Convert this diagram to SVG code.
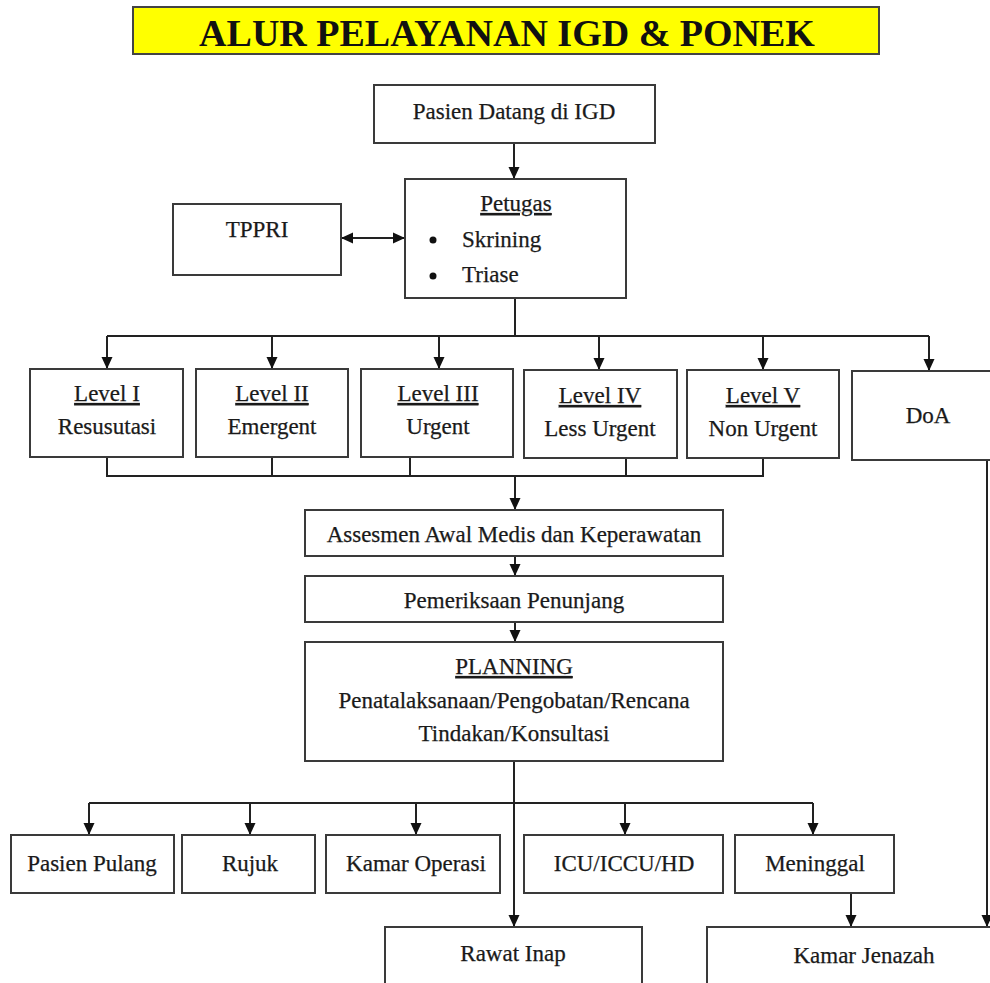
<svg xmlns="http://www.w3.org/2000/svg" width="990" height="983" viewBox="0 0 990 983">
<defs>
<marker id="ah" markerUnits="userSpaceOnUse" markerWidth="12" markerHeight="12" viewBox="0 0 12 12" refX="12" refY="6" orient="auto">
<path d="M0,0.5 L12,6 L0,11.5 Z" fill="#111"/>
</marker>
<marker id="ahs" markerUnits="userSpaceOnUse" markerWidth="12" markerHeight="12" viewBox="0 0 12 12" refX="12" refY="6" orient="auto-start-reverse">
<path d="M0,0.5 L12,6 L0,11.5 Z" fill="#111"/>
</marker>
</defs>
<style>
.b{fill:#fff;stroke:#3a3a3a;stroke-width:2}
.t{font-family:"Liberation Serif","Times New Roman",serif;font-size:23px;fill:#1a1a1a;stroke:#1a1a1a;stroke-width:0.25;text-anchor:middle}
.u{text-decoration:underline}
.c{fill:none;stroke:#222;stroke-width:2}
.a{marker-end:url(#ah)}
</style>
<rect width="990" height="983" fill="#fff"/>
<g id="title">
<rect x="133" y="7" width="746" height="47" fill="#ffff00" stroke="#444" stroke-width="2"/>
<text x="507" y="46" style="font-family:'Liberation Serif','Times New Roman',serif;font-size:38px;font-weight:bold;fill:#111;text-anchor:middle">ALUR PELAYANAN IGD &amp; PONEK</text>
</g>
<g id="connectors">
<line class="c a" x1="514" y1="143" x2="514" y2="179"/>
<line class="c" x1="341" y1="238" x2="405" y2="238" style="marker-start:url(#ahs);marker-end:url(#ah)"/>
<polyline class="c" points="515,298 515,336"/>
<line class="c" x1="107" y1="336" x2="929" y2="336"/>
<line class="c a" x1="107" y1="336" x2="107" y2="369"/>
<line class="c a" x1="272" y1="336" x2="272" y2="369"/>
<line class="c a" x1="439" y1="336" x2="439" y2="369"/>
<line class="c a" x1="599" y1="336" x2="599" y2="370"/>
<line class="c a" x1="763" y1="336" x2="763" y2="370"/>
<line class="c a" x1="929" y1="336" x2="929" y2="371"/>
<polyline class="c" points="107,457 107,476 763,476 763,458"/>
<line class="c" x1="272" y1="457" x2="272" y2="476"/>
<line class="c" x1="410" y1="457" x2="410" y2="476"/>
<line class="c" x1="626" y1="458" x2="626" y2="476"/>
<line class="c a" x1="515" y1="476" x2="515" y2="510"/>
<line class="c a" x1="515" y1="556" x2="515" y2="576"/>
<line class="c a" x1="515" y1="622" x2="515" y2="642"/>
<line class="c a" x1="514" y1="761" x2="514" y2="927"/>
<line class="c" x1="89" y1="803" x2="813" y2="803"/>
<line class="c a" x1="89" y1="803" x2="89" y2="835"/>
<line class="c a" x1="250" y1="803" x2="250" y2="835"/>
<line class="c a" x1="416" y1="803" x2="416" y2="835"/>
<line class="c a" x1="625" y1="803" x2="625" y2="835"/>
<line class="c a" x1="813" y1="803" x2="813" y2="835"/>
<line class="c a" x1="851" y1="893" x2="851" y2="927"/>
<line class="c a" x1="987" y1="460" x2="987" y2="927"/>
</g>
<g id="pasien-datang">
<rect class="b" x="374" y="85" width="281" height="58"/>
<text class="t" x="514" y="119">Pasien Datang di IGD</text>
</g>
<g id="petugas">
<rect class="b" x="405" y="179" width="221" height="119"/>
<text class="t u" x="516" y="211">Petugas</text>
<circle cx="433" cy="240" r="3.5" fill="#111"/>
<text class="t" x="462" y="247" style="text-anchor:start">Skrining</text>
<circle cx="433" cy="276" r="3.5" fill="#111"/>
<text class="t" x="462" y="282" style="text-anchor:start">Triase</text>
</g>
<g id="tppri">
<rect class="b" x="173" y="204" width="168" height="71"/>
<text class="t" x="257" y="237">TPPRI</text>
</g>
<g id="level1">
<rect class="b" x="30" y="369" width="153" height="88"/>
<text class="t u" x="107" y="401">Level I</text>
<text class="t" x="107" y="434">Resusutasi</text>
</g>
<g id="level2">
<rect class="b" x="196" y="369" width="152" height="88"/>
<text class="t u" x="272" y="401">Level II</text>
<text class="t" x="272" y="434">Emergent</text>
</g>
<g id="level3">
<rect class="b" x="361" y="369" width="152" height="88"/>
<text class="t u" x="438" y="401">Level III</text>
<text class="t" x="438" y="434">Urgent</text>
</g>
<g id="level4">
<rect class="b" x="524" y="370" width="153" height="88"/>
<text class="t u" x="600" y="403">Level IV</text>
<text class="t" x="600" y="436">Less Urgent</text>
</g>
<g id="level5">
<rect class="b" x="687" y="370" width="152" height="88"/>
<text class="t u" x="763" y="403">Level V</text>
<text class="t" x="763" y="436">Non Urgent</text>
</g>
<g id="doa">
<rect class="b" x="852" y="371" width="150" height="89"/>
<text class="t" x="928" y="423">DoA</text>
</g>
<g id="assesmen">
<rect class="b" x="305" y="510" width="418" height="46"/>
<text class="t" x="514" y="542">Assesmen Awal Medis dan Keperawatan</text>
</g>
<g id="pemeriksaan">
<rect class="b" x="305" y="576" width="418" height="46"/>
<text class="t" x="514" y="608">Pemeriksaan Penunjang</text>
</g>
<g id="planning">
<rect class="b" x="305" y="642" width="418" height="119"/>
<text class="t u" x="514" y="674">PLANNING</text>
<text class="t" x="514" y="708">Penatalaksanaan/Pengobatan/Rencana</text>
<text class="t" x="514" y="741">Tindakan/Konsultasi</text>
</g>
<g id="pasien-pulang">
<rect class="b" x="11" y="835" width="163" height="58"/>
<text class="t" x="92" y="871">Pasien Pulang</text>
</g>
<g id="rujuk">
<rect class="b" x="182" y="835" width="133" height="58"/>
<text class="t" x="250" y="871">Rujuk</text>
</g>
<g id="kamar-operasi">
<rect class="b" x="326" y="835" width="174" height="58"/>
<text class="t" x="416" y="871">Kamar Operasi</text>
</g>
<g id="icu">
<rect class="b" x="524" y="835" width="199" height="58"/>
<text class="t" x="624" y="871">ICU/ICCU/HD</text>
</g>
<g id="meninggal">
<rect class="b" x="735" y="835" width="159" height="58"/>
<text class="t" x="815" y="871">Meninggal</text>
</g>
<g id="rawat-inap">
<rect class="b" x="385" y="927" width="257" height="70"/>
<text class="t" x="513" y="961">Rawat Inap</text>
</g>
<g id="kamar-jenazah">
<rect class="b" x="707" y="927" width="295" height="70"/>
<text class="t" x="864" y="963">Kamar Jenazah</text>
</g>
</svg>
